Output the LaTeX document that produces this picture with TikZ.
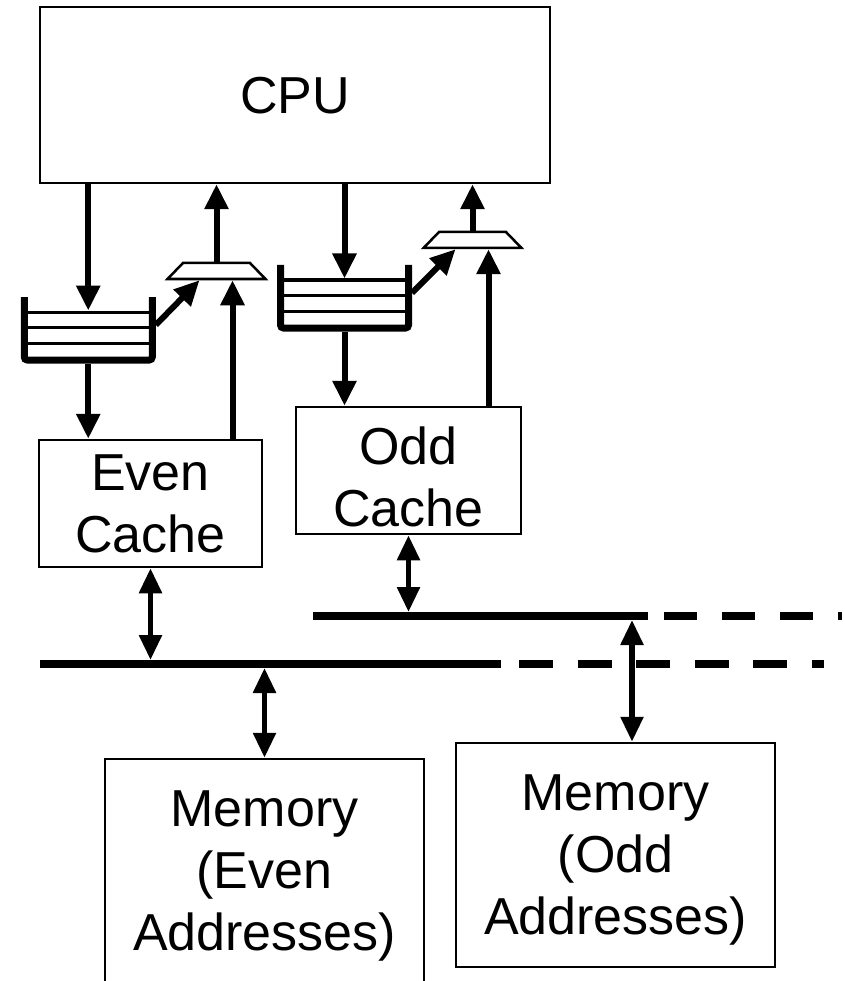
\documentclass[tikz,border=0pt]{standalone}
\usepackage{fontspec}
\setmainfont{Liberation Sans}
\usetikzlibrary{positioning, arrows.meta}

\tikzset{
  blk/.style={draw, line width=2.5pt, align=center, inner sep=0pt, text depth=0pt, font=\fontsize{52}{62}\selectfont},
  arr/.style={-{Triangle[length=25pt, width=23pt]}, line width=6pt},
  dbl/.style={{Triangle[length=25pt, width=22pt]}-{Triangle[length=25pt, width=22pt]}, line width=5.5pt},
  bus/.style={fill=black, inner sep=0pt, outer sep=0pt, minimum height=8pt},
  busdash/.style={line width=8pt, dash pattern=on 34pt off 24.5pt},
  qwall/.style={line width=7pt, rounded corners=3pt},
  qline/.style={line width=3pt},
  fifo/.pic={
    \draw[qwall] (-64,0) -- (-64,63) -- (64,63) -- (64,0);
    \foreach \yy in {15,30.5,46.5}
      \draw[qline] (-64,\yy) -- (64,\yy);
    \coordinate (-in) at (0,13.5);
    \coordinate (-out) at (0,66.5);
    \coordinate (-side) at (67.5,28);
  },
  mux/.pic={
    \draw[line width=2.5pt] (-33.5,0) -- (33.5,0) -- (49,16) -- (-49,16) -- cycle;
    \coordinate (-out) at (0,-1.25);
    \coordinate (-a) at (-17,17.25);
    \coordinate (-b) at (16,17.25);
  }
}

\begin{document}
\begin{tikzpicture}[x=1pt, y=-1pt]
  \useasboundingbox (0,0) rectangle (844,981);
  % processor and caches
  \node[blk, minimum width=510pt, minimum height=176pt] (cpu) at (295,95) {CPU};
  \node[blk, minimum width=223pt, minimum height=127pt] (evc) at (150.5,503.5) {Even\\Cache};
  \node[blk, minimum width=225pt, minimum height=127pt, text height=111pt] (odc) at (408.5,470.5) {Odd\\Cache};
  % memory banks
  \node[blk, minimum width=319pt, minimum height=224pt] (mev) at (264.5,871) {Memory\\(Even\\Addresses)};
  \node[blk, minimum width=319pt, minimum height=224pt] (mod) at (615.5,855) {Memory\\(Odd\\Addresses)};
  % buses
  \node[bus, minimum width=461pt] (lbus) at (270.5,664) {};
  \node[bus, minimum width=335pt] (ubus) at (480.5,616) {};
  \coordinate (lend) at (824,664);
  \coordinate (uend) at (842,616);
  \draw[busdash] ([xshift=18pt]lbus.east) -- (lend);
  \draw[busdash, dash pattern=on 33pt off 25pt] ([xshift=16pt]ubus.east) -- (uend);
  % queues and muxes
  \pic (evq) at (88.25,297) {fifo};
  \pic (odq) at (344.5,265) {fifo};
  \pic (evm) at (216.5,263) {mux};
  \pic (odm) at (472.5,232) {mux};
  % even side
  \draw[arr] (cpu.south -| evq-in) -- (evq-in);
  \draw[arr] (evq-out) -- (evq-out |- evc.north);
  \draw[arr] (evq-side) -- (evm-a);
  \draw[arr] (evc.north -| evm-b) -- (evm-b);
  \draw[arr] (evm-out) -- (evm-out |- cpu.south);
  % odd side
  \draw[arr] (cpu.south -| odq-in) -- (odq-in);
  \draw[arr] (odq-out) -- (odq-out |- odc.north);
  \draw[arr] (odq-side) -- (odm-a);
  \draw[arr] (odc.north -| odm-b) -- (odm-b);
  \draw[arr] (odm-out) -- (odm-out |- cpu.south);
  % bus taps
  \coordinate (utap) at ([xshift=-16pt]ubus.south east);
  \draw[dbl] (evc.south) -- (evc.south |- lbus.north);
  \draw[dbl] (odc.south) -- (odc.south |- ubus.north);
  \draw[dbl] (lbus.south -| mev.north) -- (mev.north);
  \draw[dbl] (utap) -- (utap |- mod.north);
\end{tikzpicture}
\end{document}
